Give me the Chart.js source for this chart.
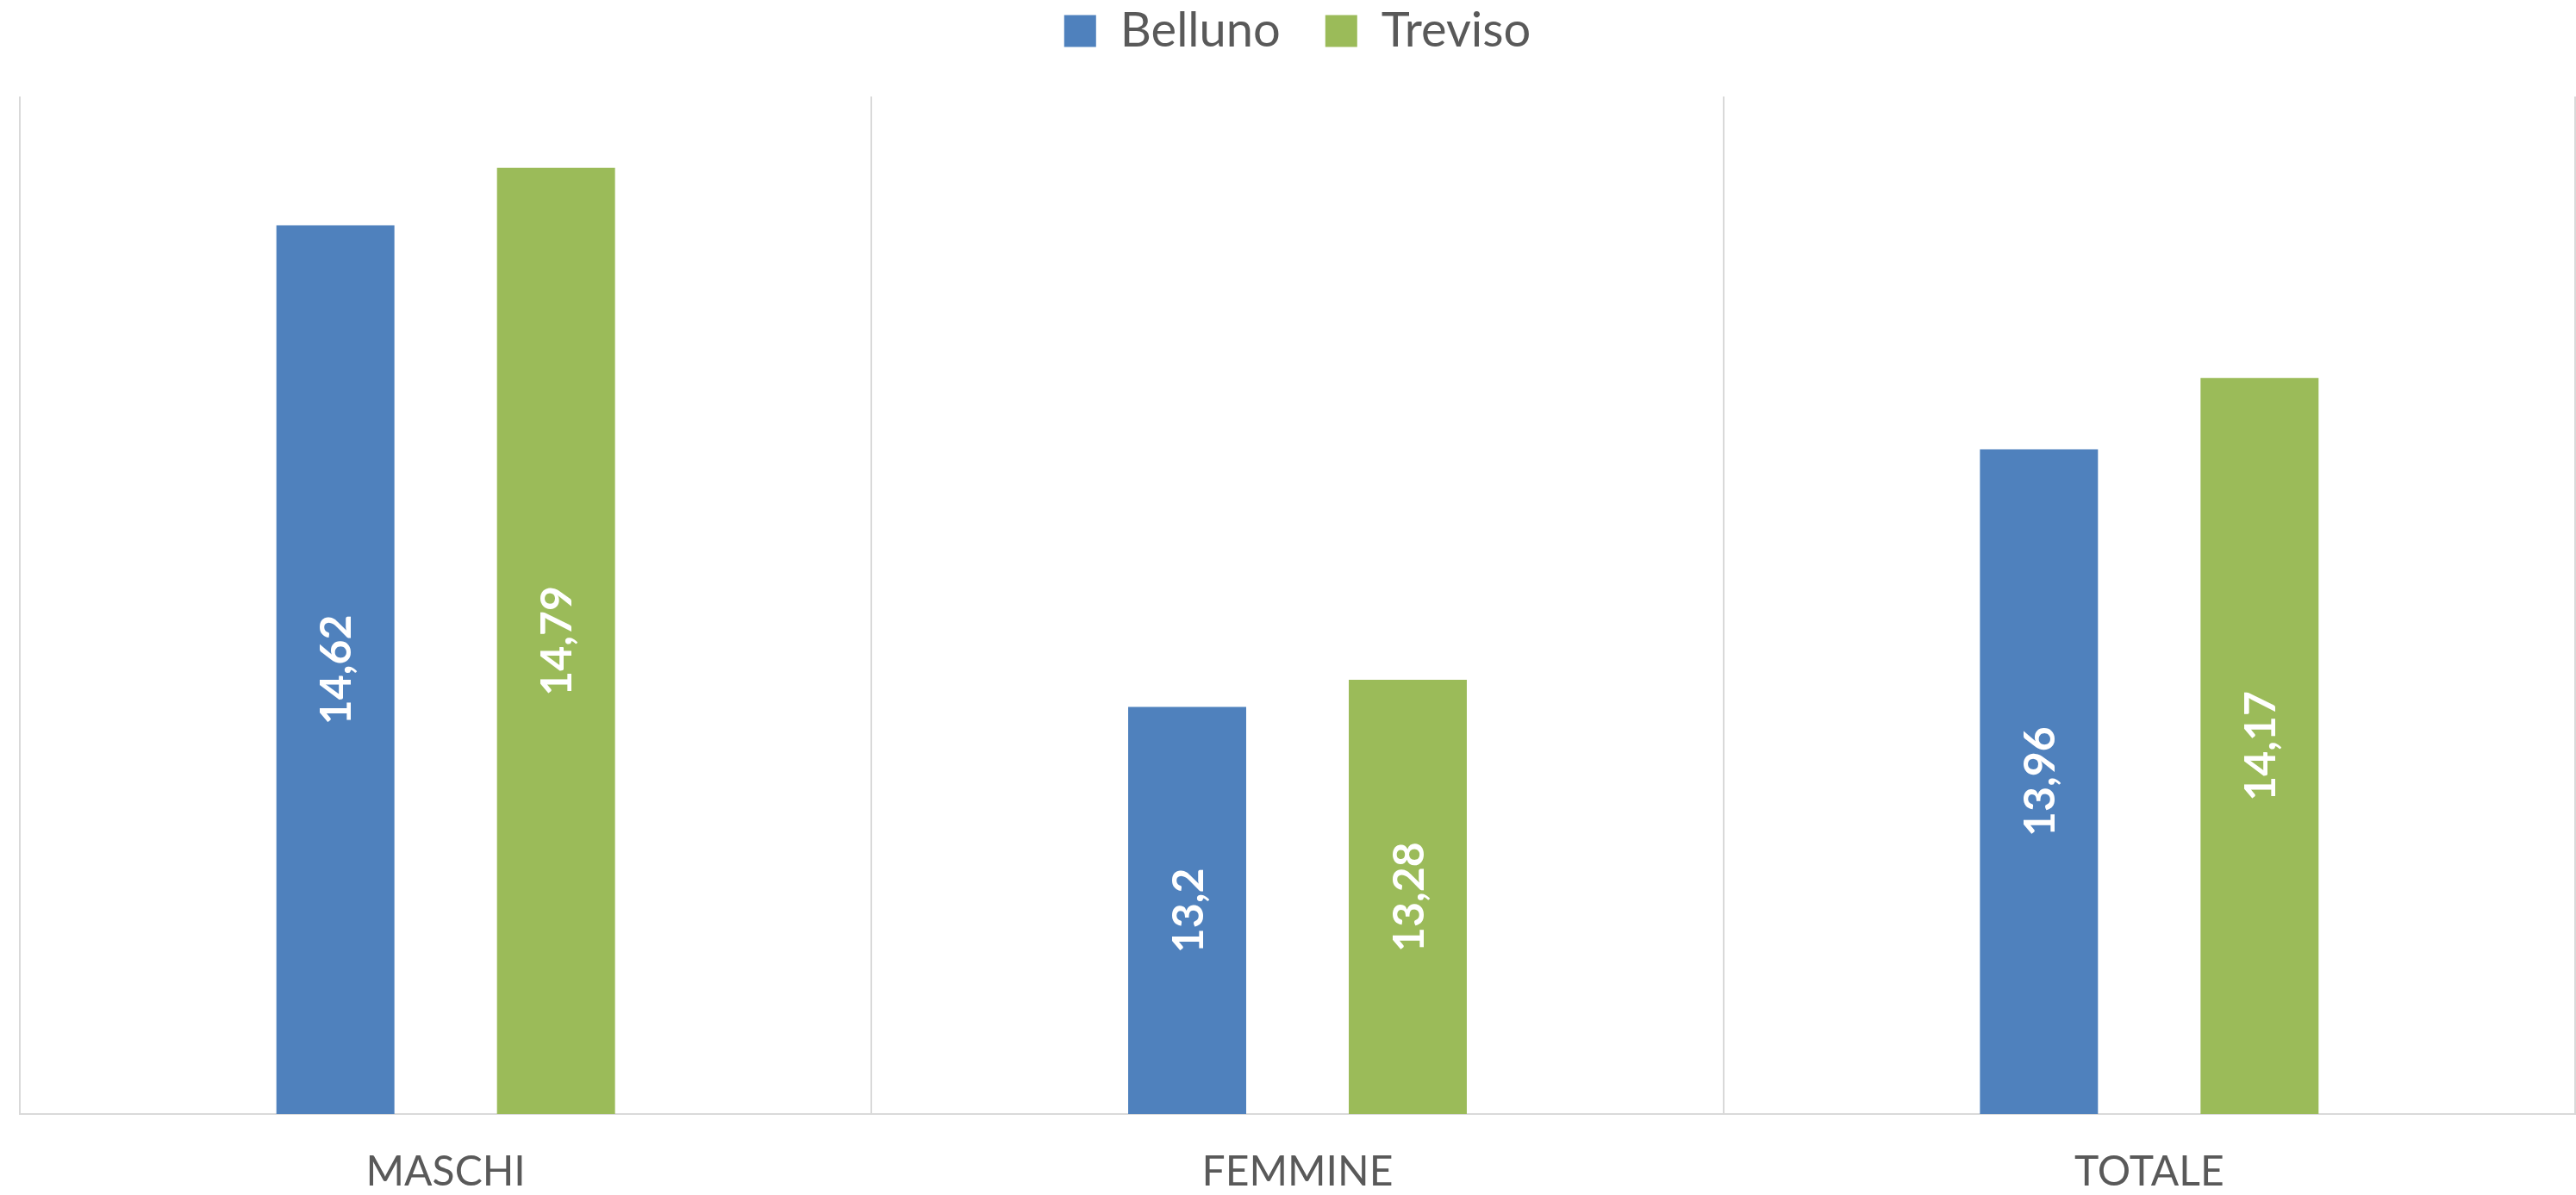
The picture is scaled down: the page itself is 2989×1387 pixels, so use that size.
<!DOCTYPE html>
<html>
<head>
<meta charset="utf-8">
<script src="https://cdn.jsdelivr.net/npm/chart.js@4.4.1/dist/chart.umd.min.js"></script>
<style>
  html, body { margin: 0; padding: 0; background: #fff; }
  #wrap { width: 2989px; height: 1387px; }
</style>
</head>
<body>
<div id="wrap"><canvas id="chart"></canvas></div>
<script>
const categories = ["MASCHI", "FEMMINE", "TOTALE"];
const belluno = [14.62, 13.2, 13.96];
const treviso = [14.79, 13.28, 14.17];
const yMin = 12;
const yMax = 15;

const COLORS = {
  belluno: "#4F81BD",
  treviso: "#9BBB59",
  text: "#595959",
  grid: "#D9D9D9",
};

const FONT = "Lato, 'Open Sans', sans-serif";

// values written vertically inside each bar, centred, with a decimal comma
const barLabels = {
  id: "barLabels",
  afterDraw(chart) {
    const ctx = chart.ctx;
    const yScale = chart.scales.y;
    const base = yScale.getPixelForValue(yMin);
    ctx.save();
    ctx.fillStyle = "#ffffff";
    ctx.font = "bold 50px " + FONT;
    ctx.textAlign = "center";
    ctx.textBaseline = "middle";
    chart.data.datasets.forEach((ds, i) => {
      const meta = chart.getDatasetMeta(i);
      ds.data.forEach((v, j) => {
        const x = meta.data[j].x;
        const top = yScale.getPixelForValue(v);
        const txt = String(v).replace(".", ",");
        ctx.save();
        ctx.translate(x, (top + base) / 2);
        ctx.rotate(-Math.PI / 2);
        ctx.fillText(txt, 0, 2);
        ctx.restore();
      });
    });
    ctx.restore();
  },
};

// legend sits near the top edge, plot starts lower
const legendPlace = {
  id: "legendPlace",
  beforeInit(chart) {
    const fit = chart.legend.fit;
    chart.legend.fit = function () {
      fit.call(this);
      this.height = 112;
    };
  },
  afterLayout(chart) {
    chart.legend.top = -44;
    chart.legend.bottom = chart.legend.top + chart.legend.height;
  },
};

new Chart(document.getElementById("chart").getContext("2d"), {
  type: "bar",
  data: {
    labels: categories,
    datasets: [
      { label: "Belluno", data: belluno, backgroundColor: COLORS.belluno },
      { label: "Treviso", data: treviso, backgroundColor: COLORS.treviso },
    ],
  },
  options: {
    responsive: true,
    maintainAspectRatio: false,
    animation: false,
    categoryPercentage: 0.518,
    barPercentage: 0.535,
    layout: { padding: { left: 23, right: 1, top: 0, bottom: 0 } },
    scales: {
      x: {
        afterFit: (axis) => { axis.height = 94; },
        grid: { color: COLORS.grid, lineWidth: 2, drawTicks: false, offset: true },
        border: { color: COLORS.grid, width: 2 },
        ticks: {
          color: COLORS.text,
          padding: 39,
          font: { family: FONT, size: 48 },
        },
      },
      y: { display: false, min: yMin, max: yMax },
    },
    plugins: {
      legend: {
        position: "top",
        labels: {
          color: COLORS.text,
          boxWidth: 37,
          boxHeight: 37,
          padding: 52,
          font: { family: FONT, size: 56 },
        },
      },
      tooltip: { enabled: false },
    },
  },
  plugins: [barLabels, legendPlace],
});
</script>
</body>
</html>
